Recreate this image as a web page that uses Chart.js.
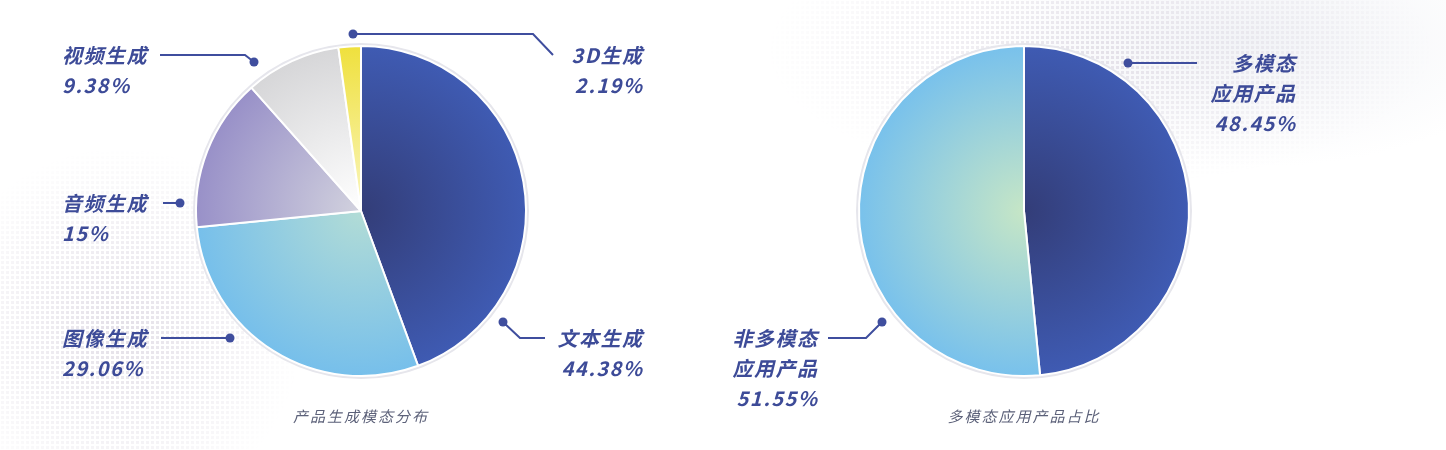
<!DOCTYPE html>
<html><head><meta charset="utf-8">
<script src="https://cdn.jsdelivr.net/npm/chart.js@4"></script>
<style>
html,body{margin:0;padding:0;background:#fff;}
#wrap{position:relative;width:1446px;height:450px;overflow:hidden;
background:
 radial-gradient(ellipse 380px 170px at 1250px 40px, rgba(225,228,236,0.45), rgba(255,255,255,0) 75%),
 #fff;}
#dots{position:absolute;left:0;top:0;width:1446px;height:450px;
background-image:radial-gradient(circle, rgba(214,208,220,0.75) 1.5px, rgba(255,255,255,0) 2px);
background-size:5px 5px;
-webkit-mask-image: radial-gradient(ellipse 230px 230px at 120px 330px, rgba(0,0,0,0.9), transparent 80%), radial-gradient(ellipse 420px 170px at 1100px 50px, rgba(0,0,0,0.8), transparent 80%);
mask-image: radial-gradient(ellipse 230px 230px at 120px 330px, rgba(0,0,0,0.9), transparent 80%), radial-gradient(ellipse 420px 170px at 1100px 50px, rgba(0,0,0,0.8), transparent 80%);}
canvas{position:absolute;top:0;}
#c1{left:0;}
#c2{left:724px;}
</style></head>
<body><div id="wrap"><div id="dots"></div>
<canvas id="c1" width="722" height="450"></canvas>
<canvas id="c2" width="600" height="450"></canvas>
</div>
<script>
// ---- data ----
const leftCategories = ['文本生成','图像生成','音频生成','视频生成','3D生成'];
const leftValues = [44.38, 29.06, 15, 9.38, 2.19];
const leftValueLabels = ['44.38%','29.06%','15%','9.38%','2.19%'];
const leftTitle = '产品生成模态分布';

const rightCategories = ['多模态应用产品','非多模态应用产品'];
const rightValues = [48.45, 51.55];
const rightValueLabels = ['48.45%','51.55%'];
const rightTitle = '多模态应用产品占比';

// ---- styles ----
const leftGrad = [['#333d78','#3f5bb3'],['#b2dcd6','#76bfeb'],['#d2d2de','#9890c8'],['#ffffff','#d6d6d8'],['#faf6c0','#efe03c']];
const rightGrad = [['#333d78','#3f5bb3'],['#c6e6c6','#78c1ec']];
const TXT = '#3d4b98';
const LINE = '#3f4e9e';
const FONT = 'italic 600 20px "Noto Sans CJK SC", sans-serif';

function radialBg(grads){
  return function(ctx){
    const chart = ctx.chart;
    const a = chart.chartArea;
    if(!a) return grads[ctx.dataIndex][1];
    const cx=(a.left+a.right)/2, cy=(a.top+a.bottom)/2;
    const r=Math.min(a.right-a.left,a.bottom-a.top)/2;
    const g = chart.ctx.createRadialGradient(cx,cy,0,cx,cy,r);
    g.addColorStop(0,grads[ctx.dataIndex][0]);
    g.addColorStop(1,grads[ctx.dataIndex][1]);
    return g;
  };
}

const haloPlugin = {
  id:'halo',
  beforeDatasetsDraw(chart){
    const arc = chart.getDatasetMeta(0).data[0];
    if(!arc) return;
    const c = chart.ctx;
    c.save();
    c.beginPath();
    c.arc(arc.x, arc.y, arc.outerRadius+1.5, 0, Math.PI*2);
    c.strokeStyle='#e6e6ec'; c.lineWidth=3; c.stroke();
    c.restore();
  }
};

// callouts: offsets relative to pie center (cx, cy)
function calloutPlugin(items, title){
  return {
    id:'callouts',
    afterDraw(chart){
      const arc = chart.getDatasetMeta(0).data[0];
      const cx=arc.x, cy=arc.y;
      const c = chart.ctx;
      c.save();
      // title
      c.font = 'italic 15px "Noto Sans CJK SC", sans-serif';
      c.letterSpacing = '2px';
      c.fillStyle = '#5c6179';
      c.textAlign='center'; c.textBaseline='middle';
      c.fillText(title, cx, cy+205);
      for(const it of items){
        c.letterSpacing = '0px';
        c.strokeStyle=LINE; c.lineWidth=2;
        c.beginPath();
        it.path.forEach((p,i)=>{ const X=cx+p[0], Y=cy+p[1]; i?c.lineTo(X,Y):c.moveTo(X,Y); });
        c.stroke();
        const d = it.path[it.dot];
        c.fillStyle=LINE;
        c.beginPath(); c.arc(cx+d[0], cy+d[1], 4.5, 0, Math.PI*2); c.fill();
        c.font = FONT; c.fillStyle=TXT; c.textAlign=it.align; c.textBaseline='middle';
        c.letterSpacing = '1.5px';
        const shift = it.align==='right' ? 1.5 : 0;
        it.lines.forEach((t,i)=> c.fillText(t, cx+it.tx+shift, cy+it.ty+i*30));
      }
      c.restore();
    }
  };
}

// left chart callouts (center ~ 361,211)
const leftItems = [
  {lines:[leftCategories[0], leftValueLabels[0]], align:'right', tx:281, ty:127,
   path:[[142,111],[159,127],[184,127]], dot:0},
  {lines:[leftCategories[1], leftValueLabels[1]], align:'left', tx:-299, ty:127,
   path:[[-200,127],[-131,127]], dot:1},
  {lines:[leftCategories[2], leftValueLabels[2]], align:'left', tx:-299, ty:-8,
   path:[[-198,-8],[-181,-8]], dot:1},
  {lines:[leftCategories[3], leftValueLabels[3]], align:'left', tx:-299, ty:-156,
   path:[[-201,-156],[-116,-156],[-107,-149]], dot:2},
  {lines:[leftCategories[4], leftValueLabels[4]], align:'right', tx:281, ty:-156,
   path:[[-8,-177],[172,-177],[192,-156]], dot:0}
];
// right chart callouts (center ~ 1024,211)
const rightItems = [
  {lines:['多模态','应用产品', rightValueLabels[0]], align:'right', tx:271, ty:-148,
   path:[[104,-148],[173,-148]], dot:0},
  {lines:['非多模态','应用产品', rightValueLabels[1]], align:'right', tx:-207, ty:127,
   path:[[-196,127],[-158,127],[-142,111]], dot:2}
];

Chart.defaults.animation=false;

function makePie(id, labels, values, grads, items, title){
  return new Chart(document.getElementById(id), {
    type:'pie',
    data:{labels:labels, datasets:[{data:values, backgroundColor:radialBg(grads),
      borderColor:'#ffffff', borderWidth:2}]},
    options:{responsive:false, maintainAspectRatio:false,
      layout:{padding:{top:45,bottom:73,left:0,right:0}},
      plugins:{legend:{display:false}, tooltip:{enabled:false}}},
    plugins:[haloPlugin, calloutPlugin(items, title)]
  });
}
makePie('c1', leftCategories, leftValues, leftGrad, leftItems, leftTitle);
makePie('c2', rightCategories, rightValues, rightGrad, rightItems, rightTitle);
</script>
</body></html>
